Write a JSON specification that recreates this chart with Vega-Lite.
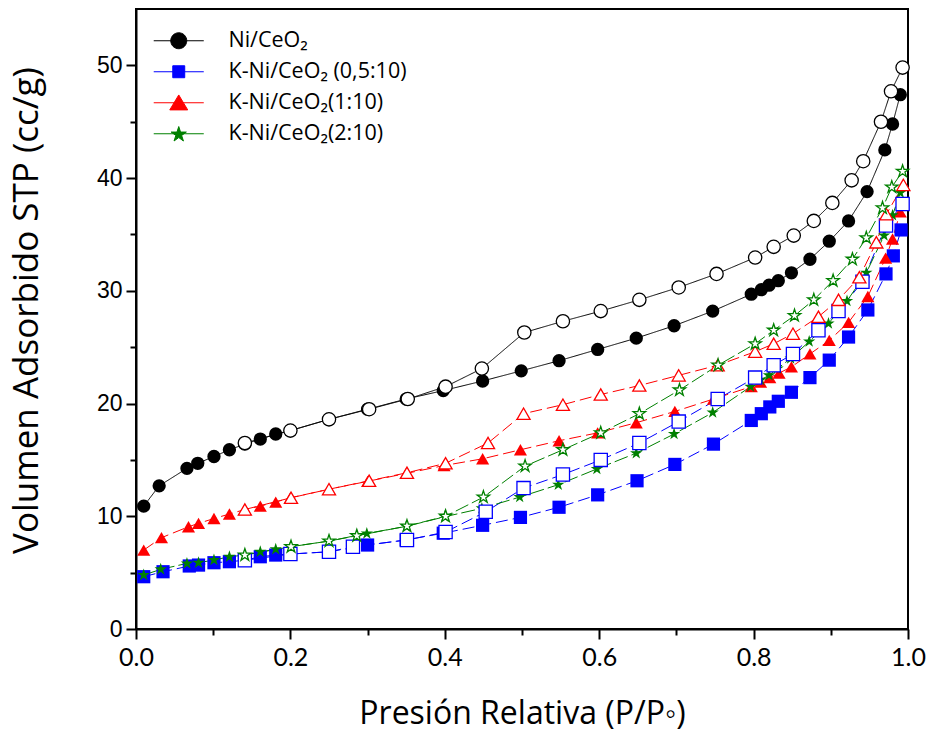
{
  "$schema": "https://vega.github.io/schema/vega-lite/v6.json",
  "autosize": "none",
  "width": 772,
  "height": 620,
  "padding": {"left": 136, "top": 9, "right": 21, "bottom": 106},
  "background": "white",
  "config": {
    "view": {"stroke": "black", "strokeWidth": 2},
    "axis": {"grid": false, "domainColor": "black", "domainWidth": 2, "tickColor": "black", "tickWidth": 2, "labelColor": "black", "titleColor": "black", "titleFontWeight": "normal", "labelFlush": false, "labelOverlap": false}
  },
  "resolve": {"scale": {"shape": "independent", "size": "independent"}, "legend": {"color": "independent", "shape": "independent", "size": "independent", "strokeDash": "independent", "stroke": "independent"}},
  "data": {"values": [
    {"s":"Ni/CeO₂","b":"a","x":0.010,"y":10.9},{"s":"Ni/CeO₂","b":"a","x":0.030,"y":12.7},{"s":"Ni/CeO₂","b":"a","x":0.066,"y":14.25},{"s":"Ni/CeO₂","b":"a","x":0.080,"y":14.7},{"s":"Ni/CeO₂","b":"a","x":0.101,"y":15.3},{"s":"Ni/CeO₂","b":"a","x":0.121,"y":15.9},{"s":"Ni/CeO₂","b":"a","x":0.141,"y":16.4},{"s":"Ni/CeO₂","b":"a","x":0.161,"y":16.85},{"s":"Ni/CeO₂","b":"a","x":0.181,"y":17.3},{"s":"Ni/CeO₂","b":"a","x":0.200,"y":17.6},{"s":"Ni/CeO₂","b":"a","x":0.250,"y":18.6},{"s":"Ni/CeO₂","b":"a","x":0.300,"y":19.5},{"s":"Ni/CeO₂","b":"a","x":0.350,"y":20.4},{"s":"Ni/CeO₂","b":"a","x":0.398,"y":21.15},{"s":"Ni/CeO₂","b":"a","x":0.449,"y":22.0},{"s":"Ni/CeO₂","b":"a","x":0.499,"y":22.9},{"s":"Ni/CeO₂","b":"a","x":0.548,"y":23.8},{"s":"Ni/CeO₂","b":"a","x":0.598,"y":24.8},{"s":"Ni/CeO₂","b":"a","x":0.648,"y":25.8},{"s":"Ni/CeO₂","b":"a","x":0.697,"y":26.9},{"s":"Ni/CeO₂","b":"a","x":0.747,"y":28.2},{"s":"Ni/CeO₂","b":"a","x":0.797,"y":29.7},{"s":"Ni/CeO₂","b":"a","x":0.810,"y":30.1},{"s":"Ni/CeO₂","b":"a","x":0.820,"y":30.5},{"s":"Ni/CeO₂","b":"a","x":0.832,"y":30.9},{"s":"Ni/CeO₂","b":"a","x":0.849,"y":31.6},{"s":"Ni/CeO₂","b":"a","x":0.873,"y":32.8},{"s":"Ni/CeO₂","b":"a","x":0.898,"y":34.4},{"s":"Ni/CeO₂","b":"a","x":0.923,"y":36.2},{"s":"Ni/CeO₂","b":"a","x":0.947,"y":38.8},{"s":"Ni/CeO₂","b":"a","x":0.970,"y":42.5},{"s":"Ni/CeO₂","b":"a","x":0.980,"y":44.8},{"s":"Ni/CeO₂","b":"a","x":0.990,"y":47.4},
    {"s":"Ni/CeO₂","b":"d","x":0.141,"y":16.5},{"s":"Ni/CeO₂","b":"d","x":0.200,"y":17.6},{"s":"Ni/CeO₂","b":"d","x":0.250,"y":18.6},{"s":"Ni/CeO₂","b":"d","x":0.302,"y":19.5},{"s":"Ni/CeO₂","b":"d","x":0.352,"y":20.4},{"s":"Ni/CeO₂","b":"d","x":0.401,"y":21.5},{"s":"Ni/CeO₂","b":"d","x":0.448,"y":23.1},{"s":"Ni/CeO₂","b":"d","x":0.503,"y":26.3},{"s":"Ni/CeO₂","b":"d","x":0.553,"y":27.3},{"s":"Ni/CeO₂","b":"d","x":0.602,"y":28.2},{"s":"Ni/CeO₂","b":"d","x":0.652,"y":29.2},{"s":"Ni/CeO₂","b":"d","x":0.703,"y":30.3},{"s":"Ni/CeO₂","b":"d","x":0.752,"y":31.5},{"s":"Ni/CeO₂","b":"d","x":0.802,"y":32.95},{"s":"Ni/CeO₂","b":"d","x":0.826,"y":33.9},{"s":"Ni/CeO₂","b":"d","x":0.852,"y":34.9},{"s":"Ni/CeO₂","b":"d","x":0.878,"y":36.2},{"s":"Ni/CeO₂","b":"d","x":0.902,"y":37.8},{"s":"Ni/CeO₂","b":"d","x":0.927,"y":39.8},{"s":"Ni/CeO₂","b":"d","x":0.942,"y":41.5},{"s":"Ni/CeO₂","b":"d","x":0.965,"y":45.0},{"s":"Ni/CeO₂","b":"d","x":0.978,"y":47.7},{"s":"Ni/CeO₂","b":"d","x":0.993,"y":49.8},
    {"s":"K-Ni/CeO₂ (0,5:10)","b":"a","x":0.010,"y":4.64},{"s":"K-Ni/CeO₂ (0,5:10)","b":"a","x":0.035,"y":5.08},{"s":"K-Ni/CeO₂ (0,5:10)","b":"a","x":0.069,"y":5.59},{"s":"K-Ni/CeO₂ (0,5:10)","b":"a","x":0.081,"y":5.67},{"s":"K-Ni/CeO₂ (0,5:10)","b":"a","x":0.101,"y":5.88},{"s":"K-Ni/CeO₂ (0,5:10)","b":"a","x":0.121,"y":5.97},{"s":"K-Ni/CeO₂ (0,5:10)","b":"a","x":0.141,"y":6.1},{"s":"K-Ni/CeO₂ (0,5:10)","b":"a","x":0.161,"y":6.41},{"s":"K-Ni/CeO₂ (0,5:10)","b":"a","x":0.181,"y":6.56},{"s":"K-Ni/CeO₂ (0,5:10)","b":"a","x":0.200,"y":6.65},{"s":"K-Ni/CeO₂ (0,5:10)","b":"a","x":0.250,"y":6.85},{"s":"K-Ni/CeO₂ (0,5:10)","b":"a","x":0.300,"y":7.45},{"s":"K-Ni/CeO₂ (0,5:10)","b":"a","x":0.350,"y":7.9},{"s":"K-Ni/CeO₂ (0,5:10)","b":"a","x":0.398,"y":8.5},{"s":"K-Ni/CeO₂ (0,5:10)","b":"a","x":0.449,"y":9.2},{"s":"K-Ni/CeO₂ (0,5:10)","b":"a","x":0.498,"y":9.9},{"s":"K-Ni/CeO₂ (0,5:10)","b":"a","x":0.548,"y":10.8},{"s":"K-Ni/CeO₂ (0,5:10)","b":"a","x":0.598,"y":11.9},{"s":"K-Ni/CeO₂ (0,5:10)","b":"a","x":0.649,"y":13.15},{"s":"K-Ni/CeO₂ (0,5:10)","b":"a","x":0.698,"y":14.6},{"s":"K-Ni/CeO₂ (0,5:10)","b":"a","x":0.748,"y":16.4},{"s":"K-Ni/CeO₂ (0,5:10)","b":"a","x":0.797,"y":18.5},{"s":"K-Ni/CeO₂ (0,5:10)","b":"a","x":0.810,"y":19.1},{"s":"K-Ni/CeO₂ (0,5:10)","b":"a","x":0.821,"y":19.7},{"s":"K-Ni/CeO₂ (0,5:10)","b":"a","x":0.832,"y":20.2},{"s":"K-Ni/CeO₂ (0,5:10)","b":"a","x":0.849,"y":21.0},{"s":"K-Ni/CeO₂ (0,5:10)","b":"a","x":0.873,"y":22.3},{"s":"K-Ni/CeO₂ (0,5:10)","b":"a","x":0.898,"y":23.85},{"s":"K-Ni/CeO₂ (0,5:10)","b":"a","x":0.923,"y":25.9},{"s":"K-Ni/CeO₂ (0,5:10)","b":"a","x":0.948,"y":28.3},{"s":"K-Ni/CeO₂ (0,5:10)","b":"a","x":0.9715,"y":31.5},{"s":"K-Ni/CeO₂ (0,5:10)","b":"a","x":0.981,"y":33.1},{"s":"K-Ni/CeO₂ (0,5:10)","b":"a","x":0.991,"y":35.4},
    {"s":"K-Ni/CeO₂ (0,5:10)","b":"d","x":0.141,"y":6.1},{"s":"K-Ni/CeO₂ (0,5:10)","b":"d","x":0.200,"y":6.65},{"s":"K-Ni/CeO₂ (0,5:10)","b":"d","x":0.250,"y":6.85},{"s":"K-Ni/CeO₂ (0,5:10)","b":"d","x":0.281,"y":7.3},{"s":"K-Ni/CeO₂ (0,5:10)","b":"d","x":0.351,"y":7.9},{"s":"K-Ni/CeO₂ (0,5:10)","b":"d","x":0.401,"y":8.6},{"s":"K-Ni/CeO₂ (0,5:10)","b":"d","x":0.453,"y":10.4},{"s":"K-Ni/CeO₂ (0,5:10)","b":"d","x":0.502,"y":12.5},{"s":"K-Ni/CeO₂ (0,5:10)","b":"d","x":0.553,"y":13.7},{"s":"K-Ni/CeO₂ (0,5:10)","b":"d","x":0.602,"y":15.0},{"s":"K-Ni/CeO₂ (0,5:10)","b":"d","x":0.652,"y":16.5},{"s":"K-Ni/CeO₂ (0,5:10)","b":"d","x":0.703,"y":18.4},{"s":"K-Ni/CeO₂ (0,5:10)","b":"d","x":0.7535,"y":20.4},{"s":"K-Ni/CeO₂ (0,5:10)","b":"d","x":0.802,"y":22.3},{"s":"K-Ni/CeO₂ (0,5:10)","b":"d","x":0.826,"y":23.4},{"s":"K-Ni/CeO₂ (0,5:10)","b":"d","x":0.851,"y":24.4},{"s":"K-Ni/CeO₂ (0,5:10)","b":"d","x":0.884,"y":26.5},{"s":"K-Ni/CeO₂ (0,5:10)","b":"d","x":0.910,"y":28.2},{"s":"K-Ni/CeO₂ (0,5:10)","b":"d","x":0.941,"y":30.8},{"s":"K-Ni/CeO₂ (0,5:10)","b":"d","x":0.9715,"y":35.8},{"s":"K-Ni/CeO₂ (0,5:10)","b":"d","x":0.993,"y":37.7},
    {"s":"K-Ni/CeO₂(1:10)","b":"a","x":0.010,"y":7.0},{"s":"K-Ni/CeO₂(1:10)","b":"a","x":0.033,"y":8.1},{"s":"K-Ni/CeO₂(1:10)","b":"a","x":0.068,"y":9.07},{"s":"K-Ni/CeO₂(1:10)","b":"a","x":0.081,"y":9.37},{"s":"K-Ni/CeO₂(1:10)","b":"a","x":0.101,"y":9.8},{"s":"K-Ni/CeO₂(1:10)","b":"a","x":0.121,"y":10.2},{"s":"K-Ni/CeO₂(1:10)","b":"a","x":0.141,"y":10.6},{"s":"K-Ni/CeO₂(1:10)","b":"a","x":0.161,"y":10.9},{"s":"K-Ni/CeO₂(1:10)","b":"a","x":0.181,"y":11.26},{"s":"K-Ni/CeO₂(1:10)","b":"a","x":0.200,"y":11.64},{"s":"K-Ni/CeO₂(1:10)","b":"a","x":0.250,"y":12.4},{"s":"K-Ni/CeO₂(1:10)","b":"a","x":0.300,"y":13.1},{"s":"K-Ni/CeO₂(1:10)","b":"a","x":0.350,"y":13.8},{"s":"K-Ni/CeO₂(1:10)","b":"a","x":0.399,"y":14.5},{"s":"K-Ni/CeO₂(1:10)","b":"a","x":0.449,"y":15.1},{"s":"K-Ni/CeO₂(1:10)","b":"a","x":0.498,"y":15.9},{"s":"K-Ni/CeO₂(1:10)","b":"a","x":0.548,"y":16.7},{"s":"K-Ni/CeO₂(1:10)","b":"a","x":0.598,"y":17.4},{"s":"K-Ni/CeO₂(1:10)","b":"a","x":0.648,"y":18.3},{"s":"K-Ni/CeO₂(1:10)","b":"a","x":0.698,"y":19.3},{"s":"K-Ni/CeO₂(1:10)","b":"a","x":0.748,"y":20.4},{"s":"K-Ni/CeO₂(1:10)","b":"a","x":0.797,"y":21.5},{"s":"K-Ni/CeO₂(1:10)","b":"a","x":0.809,"y":21.9},{"s":"K-Ni/CeO₂(1:10)","b":"a","x":0.821,"y":22.3},{"s":"K-Ni/CeO₂(1:10)","b":"a","x":0.833,"y":22.7},{"s":"K-Ni/CeO₂(1:10)","b":"a","x":0.849,"y":23.25},{"s":"K-Ni/CeO₂(1:10)","b":"a","x":0.873,"y":24.4},{"s":"K-Ni/CeO₂(1:10)","b":"a","x":0.898,"y":25.6},{"s":"K-Ni/CeO₂(1:10)","b":"a","x":0.923,"y":27.2},{"s":"K-Ni/CeO₂(1:10)","b":"a","x":0.948,"y":29.5},{"s":"K-Ni/CeO₂(1:10)","b":"a","x":0.971,"y":32.9},{"s":"K-Ni/CeO₂(1:10)","b":"a","x":0.980,"y":34.6},{"s":"K-Ni/CeO₂(1:10)","b":"a","x":0.990,"y":37.0},
    {"s":"K-Ni/CeO₂(1:10)","b":"d","x":0.141,"y":10.6},{"s":"K-Ni/CeO₂(1:10)","b":"d","x":0.2008,"y":11.64},{"s":"K-Ni/CeO₂(1:10)","b":"d","x":0.250,"y":12.4},{"s":"K-Ni/CeO₂(1:10)","b":"d","x":0.302,"y":13.15},{"s":"K-Ni/CeO₂(1:10)","b":"d","x":0.351,"y":13.86},{"s":"K-Ni/CeO₂(1:10)","b":"d","x":0.401,"y":14.7},{"s":"K-Ni/CeO₂(1:10)","b":"d","x":0.456,"y":16.5},{"s":"K-Ni/CeO₂(1:10)","b":"d","x":0.502,"y":19.1},{"s":"K-Ni/CeO₂(1:10)","b":"d","x":0.553,"y":19.9},{"s":"K-Ni/CeO₂(1:10)","b":"d","x":0.602,"y":20.8},{"s":"K-Ni/CeO₂(1:10)","b":"d","x":0.652,"y":21.6},{"s":"K-Ni/CeO₂(1:10)","b":"d","x":0.703,"y":22.5},{"s":"K-Ni/CeO₂(1:10)","b":"d","x":0.7535,"y":23.4},{"s":"K-Ni/CeO₂(1:10)","b":"d","x":0.802,"y":24.6},{"s":"K-Ni/CeO₂(1:10)","b":"d","x":0.826,"y":25.3},{"s":"K-Ni/CeO₂(1:10)","b":"d","x":0.851,"y":26.2},{"s":"K-Ni/CeO₂(1:10)","b":"d","x":0.884,"y":27.7},{"s":"K-Ni/CeO₂(1:10)","b":"d","x":0.910,"y":29.2},{"s":"K-Ni/CeO₂(1:10)","b":"d","x":0.937,"y":31.2},{"s":"K-Ni/CeO₂(1:10)","b":"d","x":0.959,"y":34.3},{"s":"K-Ni/CeO₂(1:10)","b":"d","x":0.972,"y":36.8},{"s":"K-Ni/CeO₂(1:10)","b":"d","x":0.994,"y":39.4},
    {"s":"K-Ni/CeO₂(2:10)","b":"a","x":0.010,"y":4.79},{"s":"K-Ni/CeO₂(2:10)","b":"a","x":0.032,"y":5.29},{"s":"K-Ni/CeO₂(2:10)","b":"a","x":0.066,"y":5.82},{"s":"K-Ni/CeO₂(2:10)","b":"a","x":0.081,"y":5.88},{"s":"K-Ni/CeO₂(2:10)","b":"a","x":0.101,"y":6.12},{"s":"K-Ni/CeO₂(2:10)","b":"a","x":0.121,"y":6.41},{"s":"K-Ni/CeO₂(2:10)","b":"a","x":0.141,"y":6.56},{"s":"K-Ni/CeO₂(2:10)","b":"a","x":0.161,"y":6.85},{"s":"K-Ni/CeO₂(2:10)","b":"a","x":0.181,"y":7.07},{"s":"K-Ni/CeO₂(2:10)","b":"a","x":0.200,"y":7.3},{"s":"K-Ni/CeO₂(2:10)","b":"a","x":0.250,"y":7.8},{"s":"K-Ni/CeO₂(2:10)","b":"a","x":0.299,"y":8.48},{"s":"K-Ni/CeO₂(2:10)","b":"a","x":0.350,"y":9.1},{"s":"K-Ni/CeO₂(2:10)","b":"a","x":0.400,"y":9.96},{"s":"K-Ni/CeO₂(2:10)","b":"a","x":0.448,"y":10.7},{"s":"K-Ni/CeO₂(2:10)","b":"a","x":0.497,"y":11.7},{"s":"K-Ni/CeO₂(2:10)","b":"a","x":0.547,"y":12.8},{"s":"K-Ni/CeO₂(2:10)","b":"a","x":0.597,"y":14.2},{"s":"K-Ni/CeO₂(2:10)","b":"a","x":0.648,"y":15.6},{"s":"K-Ni/CeO₂(2:10)","b":"a","x":0.697,"y":17.3},{"s":"K-Ni/CeO₂(2:10)","b":"a","x":0.747,"y":19.2},{"s":"K-Ni/CeO₂(2:10)","b":"a","x":0.796,"y":21.5},{"s":"K-Ni/CeO₂(2:10)","b":"a","x":0.809,"y":22.1},{"s":"K-Ni/CeO₂(2:10)","b":"a","x":0.820,"y":22.5},{"s":"K-Ni/CeO₂(2:10)","b":"a","x":0.831,"y":23.1},{"s":"K-Ni/CeO₂(2:10)","b":"a","x":0.848,"y":24.0},{"s":"K-Ni/CeO₂(2:10)","b":"a","x":0.872,"y":25.5},{"s":"K-Ni/CeO₂(2:10)","b":"a","x":0.897,"y":27.1},{"s":"K-Ni/CeO₂(2:10)","b":"a","x":0.921,"y":29.1},{"s":"K-Ni/CeO₂(2:10)","b":"a","x":0.946,"y":31.6},{"s":"K-Ni/CeO₂(2:10)","b":"a","x":0.969,"y":34.9},{"s":"K-Ni/CeO₂(2:10)","b":"a","x":0.980,"y":36.7},{"s":"K-Ni/CeO₂(2:10)","b":"a","x":0.990,"y":38.7},
    {"s":"K-Ni/CeO₂(2:10)","b":"d","x":0.141,"y":6.56},{"s":"K-Ni/CeO₂(2:10)","b":"d","x":0.2008,"y":7.3},{"s":"K-Ni/CeO₂(2:10)","b":"d","x":0.250,"y":7.8},{"s":"K-Ni/CeO₂(2:10)","b":"d","x":0.286,"y":8.27},{"s":"K-Ni/CeO₂(2:10)","b":"d","x":0.351,"y":9.13},{"s":"K-Ni/CeO₂(2:10)","b":"d","x":0.401,"y":10.0},{"s":"K-Ni/CeO₂(2:10)","b":"d","x":0.450,"y":11.7},{"s":"K-Ni/CeO₂(2:10)","b":"d","x":0.504,"y":14.45},{"s":"K-Ni/CeO₂(2:10)","b":"d","x":0.553,"y":15.9},{"s":"K-Ni/CeO₂(2:10)","b":"d","x":0.602,"y":17.4},{"s":"K-Ni/CeO₂(2:10)","b":"d","x":0.652,"y":19.1},{"s":"K-Ni/CeO₂(2:10)","b":"d","x":0.704,"y":21.2},{"s":"K-Ni/CeO₂(2:10)","b":"d","x":0.754,"y":23.4},{"s":"K-Ni/CeO₂(2:10)","b":"d","x":0.802,"y":25.3},{"s":"K-Ni/CeO₂(2:10)","b":"d","x":0.826,"y":26.5},{"s":"K-Ni/CeO₂(2:10)","b":"d","x":0.853,"y":27.8},{"s":"K-Ni/CeO₂(2:10)","b":"d","x":0.878,"y":29.2},{"s":"K-Ni/CeO₂(2:10)","b":"d","x":0.903,"y":30.9},{"s":"K-Ni/CeO₂(2:10)","b":"d","x":0.928,"y":32.8},{"s":"K-Ni/CeO₂(2:10)","b":"d","x":0.946,"y":34.7},{"s":"K-Ni/CeO₂(2:10)","b":"d","x":0.967,"y":37.35},{"s":"K-Ni/CeO₂(2:10)","b":"d","x":0.979,"y":39.2},{"s":"K-Ni/CeO₂(2:10)","b":"d","x":0.993,"y":40.6}
  ]},
  "encoding": {
    "x": {"field": "x", "type": "quantitative", "scale": {"domain": [0, 1], "nice": false, "zero": false},
      "axis": {"values": [0,0.1,0.2,0.3,0.4,0.5,0.6,0.7,0.8,0.9,1.0], "labelExpr": "round(datum.value*10)%2==0 ? format(datum.value,'.1f') : ''", "tickSize": {"condition": {"test": "round(datum.value*10)%2==1", "value": 6}, "value": 10}, "labelFont": "Lato", "labelFontSize": 25, "labelPadding": 6, "title": "Presión Relativa (P/P◦)", "titleFont": "Open Sans", "titleFontSize": 32, "titleY": 94, "titleBaseline": "alphabetic"}},
    "y": {"field": "y", "type": "quantitative", "scale": {"domain": [0, 55], "nice": false},
      "axis": {"values": [0,5,10,15,20,25,30,35,40,45,50], "labelExpr": "datum.value%10==0 ? datum.label : ''", "tickSize": {"condition": {"test": "datum.value%10==5", "value": 6}, "value": 10}, "labelFont": "Liberation Sans", "labelFontSize": 23, "labelPadding": 4, "title": "Volumen Adsorbido STP (cc/g)", "titleFont": "Open Sans", "titleFontSize": 35, "titleX": -99, "titleY": 301, "titleBaseline": "alphabetic"}}
  },
  "layer": [
    {
      "mark": {"type": "line", "strokeWidth": 1},
      "encoding": {
        "color": {"field": "s", "type": "nominal", "scale": {"domain": ["Ni/CeO₂","K-Ni/CeO₂ (0,5:10)","K-Ni/CeO₂(1:10)","K-Ni/CeO₂(2:10)"], "range": ["black","#0000ff","#ff0000","#008000"]}, "legend": null},
        "strokeDash": {"field": "s", "type": "nominal", "scale": {"domain": ["Ni/CeO₂","K-Ni/CeO₂ (0,5:10)","K-Ni/CeO₂(1:10)","K-Ni/CeO₂(2:10)"], "range": [[1,0],[12,5],[12,5],[14,4]]}, "legend": null},
        "detail": {"field": "b"}
      }
    },
    {
      "transform": [{"filter": "datum.b == 'a'"}],
      "mark": {"type": "point", "filled": true, "opacity": 1},
      "encoding": {
        "color": {"field": "s", "type": "nominal", "scale": {"domain": ["Ni/CeO₂","K-Ni/CeO₂ (0,5:10)","K-Ni/CeO₂(1:10)","K-Ni/CeO₂(2:10)"], "range": ["black","#0000ff","#ff0000","#008000"]}, "legend": null},
        "shape": {"field": "s", "type": "nominal", "scale": {"domain": ["Ni/CeO₂","K-Ni/CeO₂ (0,5:10)","K-Ni/CeO₂(1:10)","K-Ni/CeO₂(2:10)"], "range": ["circle","square","triangle-up","M0,-1L0.2245,-0.309L0.951,-0.309L0.363,0.118L0.588,0.809L0,0.382L-0.588,0.809L-0.363,0.118L-0.951,-0.309L-0.2245,-0.309Z"]}, "legend": null},
        "size": {"field": "s", "type": "nominal", "scale": {"domain": ["Ni/CeO₂","K-Ni/CeO₂ (0,5:10)","K-Ni/CeO₂(1:10)","K-Ni/CeO₂(2:10)"], "range": [177,169,289,256]}, "legend": null}
      }
    },
    {
      "transform": [{"filter": "datum.b == 'd'"}],
      "mark": {"type": "point", "filled": false, "fill": "white", "strokeWidth": 1.3, "opacity": 1},
      "encoding": {
        "color": {"field": "s", "type": "nominal", "scale": {"domain": ["Ni/CeO₂","K-Ni/CeO₂ (0,5:10)","K-Ni/CeO₂(1:10)","K-Ni/CeO₂(2:10)"], "range": ["black","#0000ff","#ff0000","#008000"]}, "legend": null},
        "shape": {"field": "s", "type": "nominal", "scale": {"domain": ["Ni/CeO₂","K-Ni/CeO₂ (0,5:10)","K-Ni/CeO₂(1:10)","K-Ni/CeO₂(2:10)"], "range": ["circle","square","triangle-up","M0,-1L0.2245,-0.309L0.951,-0.309L0.363,0.118L0.588,0.809L0,0.382L-0.588,0.809L-0.363,0.118L-0.951,-0.309L-0.2245,-0.309Z"]}, "legend": null},
        "size": {"field": "s", "type": "nominal", "scale": {"domain": ["Ni/CeO₂","K-Ni/CeO₂ (0,5:10)","K-Ni/CeO₂(1:10)","K-Ni/CeO₂(2:10)"], "range": [177,169,289,256]}, "legend": null}
      }
    },
    {
      "transform": [{"filter": "datum.b == 'legend-only'"}],
      "mark": {"type": "point", "filled": true, "opacity": 1, "strokeWidth": 1},
      "encoding": {
        "color": {"field": "s", "type": "nominal", "scale": {"domain": ["Ni/CeO₂","K-Ni/CeO₂ (0,5:10)","K-Ni/CeO₂(1:10)","K-Ni/CeO₂(2:10)"], "range": ["black","#0000ff","#ff0000","#008000"]},
          "legend": {"title": null, "orient": "none", "legendX": 32, "legendY": 21, "padding": 0, "symbolSize": 169, "symbolStrokeWidth": 1, "labelFont": "Open Sans", "labelFontSize": 21.5, "labelColor": "black", "labelOffset": 39, "labelLimit": 400, "rowPadding": 8}},
        "stroke": {"field": "s", "type": "nominal", "scale": {"domain": ["Ni/CeO₂","K-Ni/CeO₂ (0,5:10)","K-Ni/CeO₂(1:10)","K-Ni/CeO₂(2:10)"], "range": ["black","#0000ff","#ff0000","#008000"]},
          "legend": {"title": null, "orient": "none", "legendX": 32, "legendY": 21, "padding": 0, "symbolSize": 169, "symbolStrokeWidth": 1, "labelFont": "Open Sans", "labelFontSize": 21.5, "labelColor": "black", "labelOffset": 39, "labelLimit": 400, "rowPadding": 8}},
        "shape": {"field": "s", "type": "nominal", "scale": {"domain": ["Ni/CeO₂","K-Ni/CeO₂ (0,5:10)","K-Ni/CeO₂(1:10)","K-Ni/CeO₂(2:10)"], "range": ["M-3.85,0H3.85M-1.23,0A1.23,1.23 0 1,1 1.23,0A1.23,1.23 0 1,1 -1.23,0Z","M-3.85,0H3.85M-0.92,-0.92H0.92V0.92H-0.92Z","M-3.85,0H3.85M0,-1.2L1.38,1.1H-1.38Z","M-3.85,0H3.85M0,-1.11L0.276,-0.26L1.17,-0.26L0.447,0.265L0.723,1.115L0,0.59L-0.723,1.115L-0.447,0.265L-1.17,-0.26L-0.276,-0.26Z"]},
          "legend": {"title": null, "orient": "none", "legendX": 32, "legendY": 21, "padding": 0, "symbolSize": 169, "symbolStrokeWidth": 1, "labelFont": "Open Sans", "labelFontSize": 21.5, "labelColor": "black", "labelOffset": 39, "labelLimit": 400, "rowPadding": 8}}
      }
    }
  ]
}
